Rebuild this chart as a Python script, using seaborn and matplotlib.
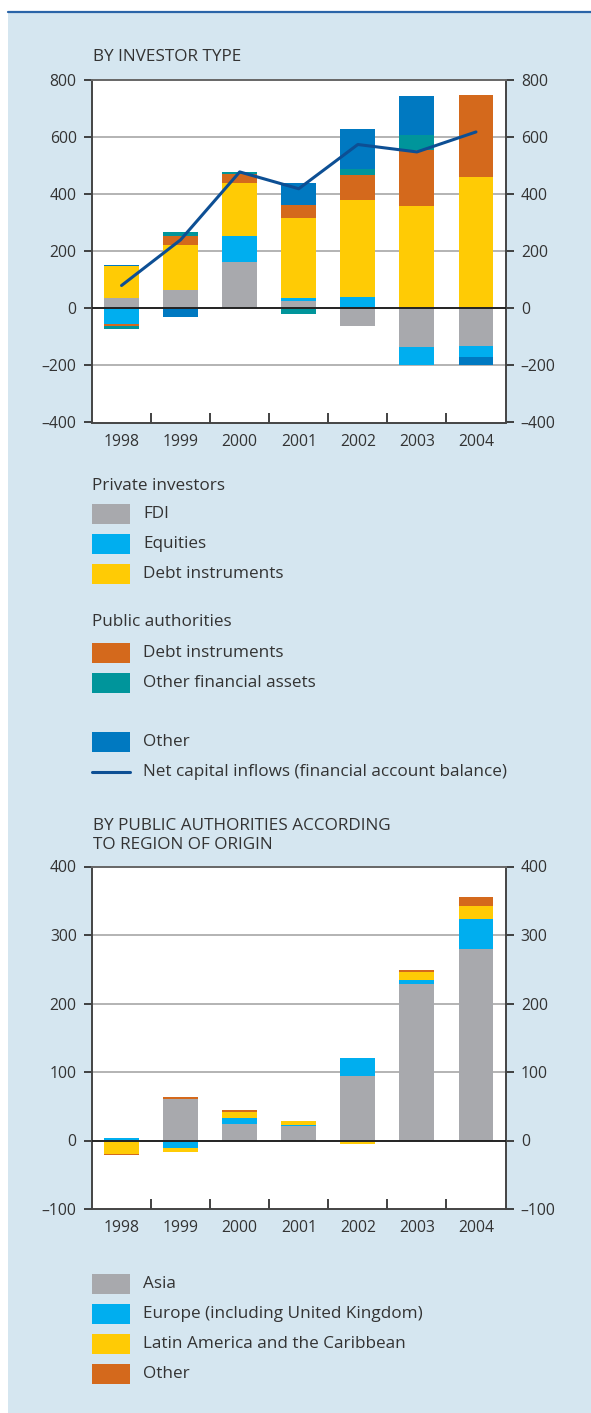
import numpy as np
import pandas as pd
import matplotlib
matplotlib.use("Agg")
import matplotlib.pyplot as plt
from matplotlib.patches import Rectangle
from matplotlib.lines import Line2D
import seaborn as sns

sns.set_theme(style="white")
plt.rcParams['font.family'] = ['Open Sans', 'DejaVu Sans']

# ---------------- data ----------------
years = ["1998", "1999", "2000", "2001", "2002", "2003", "2004"]

# Chart 1: by investor type (signed contributions)
fdi = [37, 65, 164, 27, -61, -135, -131]
equities = [-55, 0, 89, 10, 41, -63, -39]
private_debt = [112, 158, 185, 278, 340, 357, 459]
public_debt = [-7, 30, 32, 48, 87, 199, 288]
other_fin_assets = [-12, 14, 8, -21, 21, 50, 0]
other = [3, -29, 0, 77, 140, 137, -28]
net_inflows = [80, 240, 478, 419, 574, 548, 618]

# Chart 2: public authorities by region of origin
asia = [0, 61, 24, 21, 94, 228, 280]
europe = [4, -11, 9, 2, 26, 6, 43]
latam = [-19, -6, 9, 6, -5, 12, 20]
region_other = [-2, 2, 3, 0, 1, 3, 12]

title1 = "BY INVESTOR TYPE"
title2 = "BY PUBLIC AUTHORITIES ACCORDING\nTO REGION OF ORIGIN"
yticks1 = [-400, -200, 0, 200, 400, 600, 800]
yticks2 = [-100, 0, 100, 200, 300, 400]

C_GRAY = "#a8a9ad"
C_LBLUE = "#00aeef"
C_YEL = "#ffcb05"
C_ORA = "#d4691c"
C_TEAL = "#00959b"
C_DBLUE = "#0079c1"
C_LINE = "#0d4f94"
BG = "#d5e6f0"
TXT = "#333333"
FS = 12.3
TFS = 11.3

W, H = 591, 1413
fig = plt.figure(figsize=(W / 100, H / 100), dpi=100, facecolor="white")


def fx(x):
    return x / W


def fy(y):
    return 1 - y / H


# background panel & top rule
fig.patches.append(Rectangle((fx(8), 0), 1 - fx(8), fy(11.5), transform=fig.transFigure,
                             facecolor=BG, edgecolor="none", zorder=-10))
fig.lines.append(Line2D([fx(8), 1], [fy(11.5), fy(11.5)], transform=fig.transFigure,
                        color="#2a64a8", lw=1.6))


def stacked(ax, series, colors):
    pos_base = np.zeros(len(years))
    neg_base = np.zeros(len(years))
    for vals, col in zip(series, colors):
        v = np.array(vals, dtype=float)
        bottom = np.where(v >= 0, pos_base, neg_base)
        df = pd.DataFrame({"year": years, "val": v})
        sns.barplot(data=df, x="year", y="val", bottom=bottom, color=col, ax=ax,
                    width=0.59, saturation=1, linewidth=0, edgecolor="none", zorder=3)
        pos_base = pos_base + np.where(v > 0, v, 0)
        neg_base = neg_base + np.where(v < 0, v, 0)


def style_axes(ax, ylim, yticks):
    ax.set_facecolor("white")
    ax.set_xlim(-0.5, len(years) - 0.5)
    ax.set_ylim(*ylim)
    ax.set_yticks(yticks)
    ax.set_yticklabels(["\u2013" + str(abs(t)) if t < 0 else str(t) for t in yticks])
    for t in yticks:
        if t == 0:
            ax.axhline(0, color="#222222", lw=1.4, zorder=4)
        elif t not in ylim:
            ax.axhline(t, color="#b3b3b3", lw=1.4, zorder=1)
    for s in ["left", "right", "bottom", "top"]:
        ax.spines[s].set_visible(True)
        ax.spines[s].set_color("#444444")
        ax.spines[s].set_linewidth(1.4)
    ax.spines["top"].set_color("#666666")
    ax.tick_params(axis="y", which="both", left=True, right=True, labelleft=True,
                   labelright=True, direction="out", length=6, width=1.3,
                   color="#333333", labelsize=TFS, labelcolor=TXT, pad=5)
    ax.set_xticks(range(len(years)))
    ax.set_xticklabels(years)
    ax.set_xticks(np.arange(0.5, len(years) - 0.5, 1), minor=True)
    ax.tick_params(axis="x", which="major", length=0, labelsize=TFS, labelcolor=TXT, pad=8)
    ax.tick_params(axis="x", which="minor", bottom=True, direction="in", length=7,
                   width=1.3, color="#333333")
    ax.set_xlabel("")
    ax.set_ylabel("")


# ---------------- chart 1 ----------------
ax1 = fig.add_axes([fx(92), fy(422.5), fx(505.5) - fx(92), (422.5 - 80) / H])
stacked(ax1, [fdi, equities, private_debt, public_debt, other_fin_assets, other],
        [C_GRAY, C_LBLUE, C_YEL, C_ORA, C_TEAL, C_DBLUE])
sns.lineplot(x=np.arange(len(years)), y=net_inflows, ax=ax1, color=C_LINE, lw=2.2, zorder=5)
style_axes(ax1, (-400, 800), yticks1)

# ---------------- chart 2 ----------------
ax2 = fig.add_axes([fx(92), fy(1209), fx(505.5) - fx(92), (1209 - 866.5) / H])
stacked(ax2, [asia, europe, latam, region_other], [C_GRAY, C_LBLUE, C_YEL, C_ORA])
style_axes(ax2, (-100, 400), yticks2)

# ---------------- titles ----------------
fig.text(fx(93), fy(57), title1, fontsize=FS, color=TXT, va="center", ha="left")
fig.text(fx(93), fy(835), title2, fontsize=FS, color=TXT, va="center", ha="left",
         linespacing=1.25)

# ---------------- legends ----------------
def patch(y, color):
    fig.patches.append(Rectangle((fx(92), fy(y + 10)), fx(130) - fx(92), 20 / H,
                                 transform=fig.transFigure, facecolor=color,
                                 edgecolor="none"))


def label(y, text, x=143):
    fig.text(fx(x), fy(y), text, fontsize=FS, color=TXT, va="center", ha="left")


legend1_heads = ["Private investors", "Public authorities"]
legend1_labels = ["FDI", "Equities", "Debt instruments", "Debt instruments",
                  "Other financial assets", "Other",
                  "Net capital inflows (financial account balance)"]
legend1_colors = [C_GRAY, C_LBLUE, C_YEL, C_ORA, C_TEAL, C_DBLUE]
legend1_y = [514, 544, 574, 653, 683, 742, 772]

label(486, legend1_heads[0], x=92)
label(622, legend1_heads[1], x=92)
for yy, txt, col in zip(legend1_y[:6], legend1_labels[:6], legend1_colors):
    patch(yy, col)
    label(yy, txt)
fig.lines.append(Line2D([fx(92), fx(130)], [fy(772), fy(772)], transform=fig.transFigure,
                        color=C_LINE, lw=2.2))
label(772, legend1_labels[6])

legend2_labels = ["Asia", "Europe (including United Kingdom)",
                  "Latin America and the Caribbean", "Other"]
legend2_colors = [C_GRAY, C_LBLUE, C_YEL, C_ORA]
legend2_y = [1284, 1314, 1344, 1374]
for yy, txt, col in zip(legend2_y, legend2_labels, legend2_colors):
    patch(yy, col)
    label(yy, txt)

fig.savefig("out.png", dpi=100, facecolor="white")
